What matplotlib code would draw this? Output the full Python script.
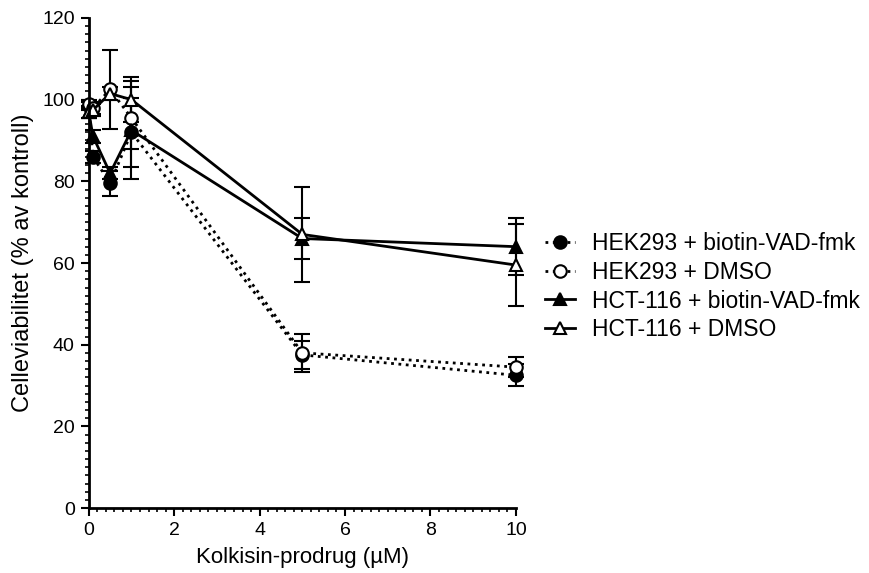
import matplotlib
matplotlib.use("Agg")
import matplotlib.pyplot as plt
from matplotlib.ticker import MultipleLocator

plt.rcParams['font.family'] = ['Liberation Sans', 'DejaVu Sans']

conc = [0, 0.1, 0.5, 1, 5, 10]

hek_bvad = [98.5, 86, 79.5, 92, 37.5, 32.5]
hek_bvad_err = [1.0, 1.5, 3.0, 8.5, 3.5, 2.7]
hek_dmso = [99, 98, 102.5, 95.5, 38, 34.5]
hek_dmso_err = [1.0, 1.5, 9.7, 7.5, 4.7, 2.5]
hct_bvad = [97, 91, 82, 92.5, 66, 64]
hct_bvad_err = [1.5, 1.5, 1.5, 12.0, 5.0, 7.0]
hct_dmso = [97, 97.5, 101.5, 100, 67, 59.5]
hct_dmso_err = [1.5, 1.5, 1.5, 5.5, 11.7, 10.0]

labels = ["HEK293 + biotin-VAD-fmk", "HEK293 + DMSO",
          "HCT-116 + biotin-VAD-fmk", "HCT-116 + DMSO"]

fig = plt.figure(figsize=(8.7, 5.73), dpi=100)
ax = fig.add_axes([0.102, 0.1134, 0.491, 0.8552])

common = dict(color='black', ecolor='black', elinewidth=1.5, capsize=6,
              capthick=1.5, markersize=9, markeredgewidth=1.5, lw=2,
              clip_on=False)
series = [
    (hek_bvad, hek_bvad_err, 'o', ':', 'black'),
    (hek_dmso, hek_dmso_err, 'o', ':', 'white'),
    (hct_bvad, hct_bvad_err, '^', '-', 'black'),
    (hct_dmso, hct_dmso_err, '^', '-', 'white'),
]
for (vals, errs, mk, ls, fc), lab in zip(series, labels):
    ax.errorbar(conc, vals, yerr=errs, marker=mk, ls=ls,
                markerfacecolor=fc, label=lab, **common)

ax.set_xlim(0, 10)
ax.set_ylim(0, 120)
ax.xaxis.set_major_locator(MultipleLocator(2))
ax.xaxis.set_minor_locator(MultipleLocator(0.2))
ax.yaxis.set_major_locator(MultipleLocator(20))
ax.yaxis.set_minor_locator(MultipleLocator(2))
for s in ['top', 'right']:
    ax.spines[s].set_visible(False)
for s in ['left', 'bottom']:
    ax.spines[s].set_linewidth(2)
ax.tick_params(which='major', direction='out', length=6, width=1.5,
               labelsize=14, pad=4)
ax.tick_params(which='minor', direction='out', length=3, width=1.2)

ax.set_xlabel("Kolkisin-prodrug (µM)", fontsize=16, labelpad=6)
ax.set_ylabel("Celleviabilitet (% av kontroll)", fontsize=17, labelpad=6)

h, l = ax.get_legend_handles_labels()
h = [x[0] for x in h]
ax.legend(h, l, loc='center left', bbox_to_anchor=(1.068, 0.452),
          frameon=False, fontsize=16.5, handlelength=1.3, handletextpad=0.75,
          labelspacing=0.26, borderpad=0, borderaxespad=0)

fig.savefig("out.png", dpi=100)
